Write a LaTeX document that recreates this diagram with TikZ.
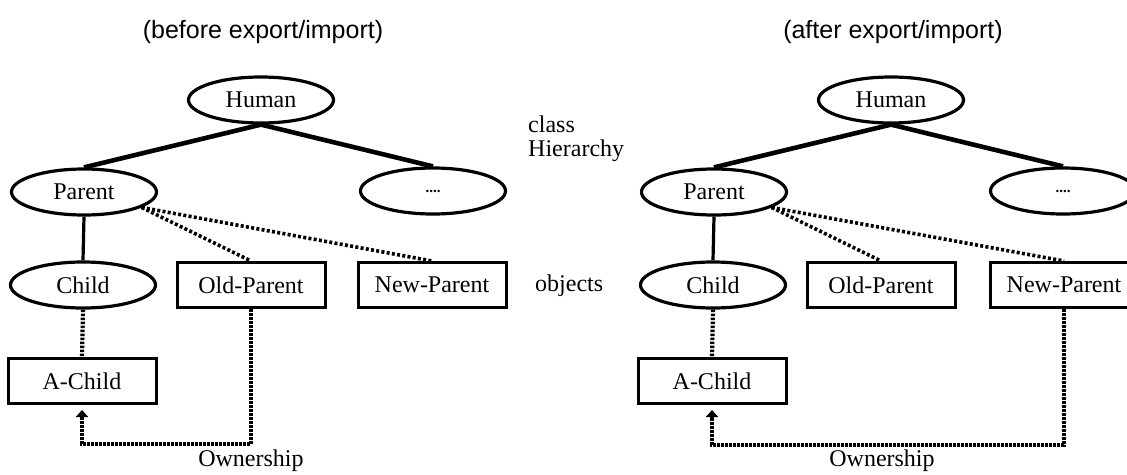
\documentclass[tikz,border=0pt]{standalone}
\usepackage{fontspec}
\setmainfont{Liberation Serif}
\newfontfamily\titlefont{Liberation Sans}
\usetikzlibrary{shapes.geometric,arrows.meta}

\begin{document}
\begin{tikzpicture}[x=1pt,y=-1pt,
  every node/.style={font=\fontsize{24}{28}\selectfont, inner sep=0pt},
  cls/.style={ellipse, draw, line width=3.2pt, minimum width=145pt, minimum height=46pt},
  obj/.style={rectangle, draw, line width=3pt, minimum width=148pt, minimum height=45pt},
  inherit/.style={line width=4.6pt},
  subclass/.style={line width=3.2pt},
  instof/.style={line width=3.6pt, dash pattern=on 3pt off 2.3pt},
  link/.style={line width=4.2pt, dash pattern=on 2.6pt off 1.4pt},
  owns/.style={link, -{Triangle[width=12pt,length=7pt]}, shorten >=5pt},
  heading/.style={font=\titlefont\fontsize{25}{30}\selectfont, anchor=base},
  side/.style={anchor=base west},
  dots/.style={font=\fontsize{15}{15}\selectfont\bfseries}]

\useasboundingbox (0,0) rectangle (1127,474);
\fill[white] (0,0) rectangle (1127,474);
\clip (0,0) rectangle (1127,474);

% ---------- left panel: before export/import ----------
\node[heading] (titleL) at (263,38) {(before export/import)};
\node[cls] (humanL)  at (261,100) {Human};
\node[cls] (parentL) at (84,192)  {Parent};
\node[cls, dots] (moreL) at (433,191) {....};
\node[cls] (childL)  at (83,285)  {Child};
\node[obj] (oldL)    at (251,285) {Old-Parent};
\node[obj] (newL)    at (432,285) {New-Parent};
\node[obj] (achildL) at (82,381)  {A-Child};
\node[anchor=base] (ownL) at (251,466) {Ownership};
\coordinate (bendL) at (251,444);

\draw[inherit]  (humanL.south) -- (parentL.north);
\draw[inherit]  (humanL.south) -- (moreL.north);
\draw[subclass] (parentL.south) -- (childL.north);
\draw[instof]   (parentL.-15) -- (oldL.north);
\draw[instof]   (parentL.-15) -- (newL.north);
\draw[link]     (childL.south) -- (achildL.north);
\draw[owns]     (oldL.south) -- (bendL) -| (achildL.south);

% ---------- middle labels ----------
\node[side] (lblclass) at (528,132) {class};
\node[side] (lblhier)  at (528,156) {Hierarchy};
\node[side] (lblobj)   at (535,291) {objects};

% ---------- right panel: after export/import ----------
\node[heading] (titleR) at (893,38) {(after export/import)};
\node[cls] (humanR)  at (891,100)  {Human};
\node[cls] (parentR) at (714,192)  {Parent};
\node[cls, dots] (moreR) at (1063,191) {....};
\node[cls] (childR)  at (713,285)  {Child};
\node[obj] (oldR)    at (881,285)  {Old-Parent};
\node[obj] (newR)    at (1064,285) {New-Parent};
\node[obj] (achildR) at (712,381)  {A-Child};
\node[anchor=base] (ownR) at (882,466) {Ownership};
\coordinate (bendR) at (1064,445);

\draw[inherit]  (humanR.south) -- (parentR.north);
\draw[inherit]  (humanR.south) -- (moreR.north);
\draw[subclass] (parentR.south) -- (childR.north);
\draw[instof]   (parentR.-15) -- (oldR.north);
\draw[instof]   (parentR.-15) -- (newR.north);
\draw[link]     (childR.south) -- (achildR.north);
\draw[owns]     (newR.south) -- (bendR) -| (achildR.south);
\end{tikzpicture}
\end{document}
